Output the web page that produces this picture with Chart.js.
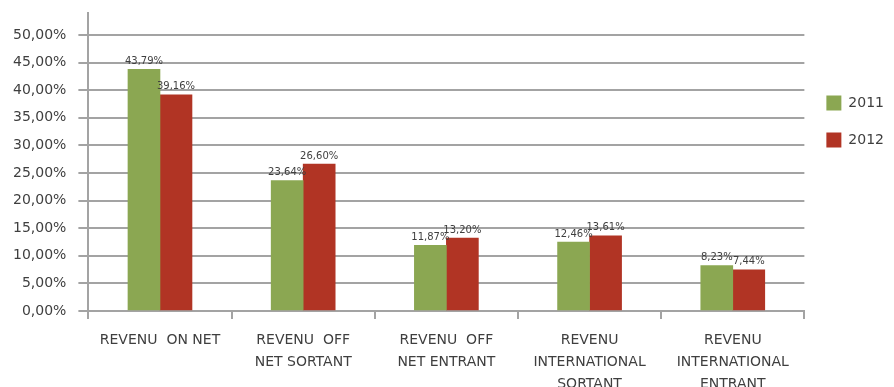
<!DOCTYPE html>
<html>
<head>
<meta charset="utf-8">
<script src="https://cdn.jsdelivr.net/npm/chart.js@4/dist/chart.umd.min.js"></script>
<style>
  html, body { margin: 0; padding: 0; background: #fff; overflow: hidden; }
  #wrap { width: 894px; height: 406px; position: relative; }
</style>
</head>
<body>
<div id="wrap"><canvas id="revenueChart"></canvas></div>
<script>
const categories = [
    ['REVENU  ON NET'],
    ['REVENU  OFF', 'NET SORTANT'],
    ['REVENU  OFF', 'NET ENTRANT'],
    ['REVENU', 'INTERNATIONAL', 'SORTANT'],
    ['REVENU', 'INTERNATIONAL', 'ENTRANT']
];
const seriesNames = ['2011', '2012'];
const values2011 = [43.79, 23.64, 11.87, 12.46, 8.23];
const values2012 = [39.16, 26.60, 13.20, 13.61, 7.44];
const yTickValues = [0, 5, 10, 15, 20, 25, 30, 35, 40, 45, 50];

const gridColor = '#a3a3a3';
const textColor = '#3f3f3f';
const fontFamily = '"DejaVu Sans", sans-serif';

function formatPercent(v) {
    return v.toFixed(2).replace('.', ',') + '%';
}

// writes each bar's value just above it
const valueLabels = {
    id: 'valueLabels',
    afterDatasetsDraw(chart) {
        const ctx = chart.ctx;
        ctx.save();
        ctx.font = '10px ' + fontFamily;
        ctx.fillStyle = textColor;
        ctx.textAlign = 'center';
        ctx.textBaseline = 'bottom';
        chart.data.datasets.forEach((ds, i) => {
            chart.getDatasetMeta(i).data.forEach((bar, j) => {
                ctx.fillText(formatPercent(ds.data[j]), bar.x, bar.y - 3);
            });
        });
        ctx.restore();
    }
};

const ctx = document.getElementById('revenueChart').getContext('2d');
const revenueChart = new Chart(ctx, {
    type: 'bar',
    data: {
        labels: categories,
        datasets: [{
            label: seriesNames[0],
            data: values2011,
            backgroundColor: '#8ba752',
            barThickness: 32
        }, {
            label: seriesNames[1],
            data: values2012,
            backgroundColor: '#b13424',
            barThickness: 32
        }]
    },
    options: {
        responsive: true,
        maintainAspectRatio: false,
        animation: false,
        layout: { padding: { top: 13, left: 1, right: 0, bottom: 0 } },
        plugins: {
            tooltip: { enabled: false },
            legend: {
                position: 'right',
                align: 'start',
                title: { display: true, text: '', padding: { top: 46, bottom: 0 } },
                labels: {
                    boxWidth: 15,
                    boxHeight: 15,
                    padding: 22,
                    color: textColor,
                    font: { family: fontFamily, size: 14 }
                }
            }
        },
        scales: {
            x: {
                offset: true,
                grid: {
                    offset: true,
                    drawOnChartArea: false,
                    drawTicks: true,
                    tickLength: 8,
                    color: gridColor,
                    lineWidth: 2
                },
                border: { color: gridColor, width: 2 },
                ticks: {
                    color: textColor,
                    padding: 11,
                    maxRotation: 0,
                    autoSkip: false,
                    font: { family: fontFamily, size: 14, lineHeight: 1.55 }
                }
            },
            y: {
                min: 0,
                max: 54,
                afterBuildTicks: scale => {
                    scale.ticks = yTickValues.map(v => ({ value: v }));
                },
                // the top tick sits below the axis end, so no extra room is needed above it
                afterFit: scale => {
                    scale.paddingTop = 0;
                },
                grid: {
                    color: gridColor,
                    lineWidth: 2,
                    tickLength: 10
                },
                border: { color: gridColor, width: 2 },
                ticks: {
                    color: textColor,
                    padding: 12,
                    font: { family: fontFamily, size: 14 },
                    callback: value => formatPercent(value)
                }
            }
        }
    },
    plugins: [valueLabels]
});
</script>
</body>
</html>
